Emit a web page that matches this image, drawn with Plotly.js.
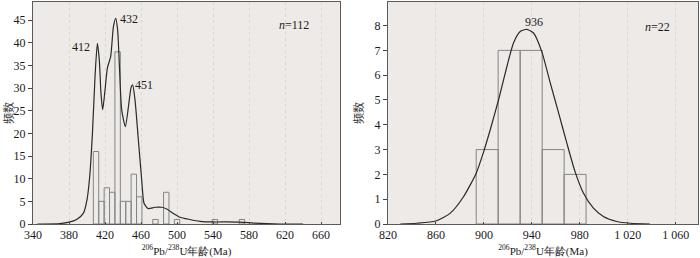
<!DOCTYPE html>
<html><head><meta charset="utf-8">
<script src="https://cdn.plot.ly/plotly-3.0.1.min.js"></script>
<style>html,body{margin:0;padding:0;background:#fff}#c{width:700px;height:258px}</style>
</head><body><div id="c"></div>
<script>
// Left panel: histogram (bin left edges, width 6 Ma) and probability curve
var binLeft1 = [407, 413, 419, 425, 431, 437, 443, 449, 455, 473, 485, 497, 539, 569];
var count1   = [16, 5, 8, 7, 38, 5, 5, 11, 6, 1, 7, 1, 1, 1];
var binWidth1 = 6;
var curveX1 = [345, 351.5, 370, 380, 388.5, 396, 400, 403, 406, 409, 411.5, 413.7, 415.5, 417.4, 420, 422.6, 426.3, 429.3, 431.9, 434, 436, 438.5, 442.6, 446, 449, 450.7, 453.3, 457, 460.7, 463.3, 468, 475.6, 483, 488.5, 496, 503, 514, 525.5, 540.4, 555, 570, 585, 600, 614, 640];
var curveY1 = [0, 0, 0.1, 0.4, 1, 2.4, 5.4, 10.5, 20, 33, 39.9, 36, 28.8, 25.2, 29.6, 34.4, 37, 43.5, 45.4, 42.8, 34.7, 25.2, 21.5, 25.9, 30.2, 30.7, 27.4, 18.6, 9.8, 4.6, 3.4, 3.7, 3.7, 3.3, 2.3, 1.5, 1.0, 0.6, 0.45, 0.45, 0.4, 0.2, 0.07, 0, 0];
var peakLabels1 = ["412", "432", "451"];
var peakX1 = [393, 446.7, 463];
var peakY1 = [39.1, 45.2, 30.7];
var xTicks1 = [340, 380, 420, 460, 500, 540, 580, 620, 660];

// Right panel
var binLeft2 = [893.6, 911.9, 930.3, 948.6, 966.9];
var count2   = [3, 7, 7, 3, 2];
var binWidth2 = 18.33;
var curveX2 = [830.3, 844, 860, 872, 883, 893.6, 899.7, 905.3, 912.2, 919.2, 924.7, 930.3, 935.8, 941.4, 948.3, 955.3, 962.2, 969.2, 976.1, 983, 991.4, 999.7, 1010.8, 1022, 1038.6];
var curveY2 = [0, 0.03, 0.12, 0.44, 1.1, 2.05, 2.9, 3.8, 5.0, 6.35, 7.3, 7.76, 7.85, 7.7, 6.95, 5.7, 4.5, 3.26, 2.1, 1.25, 0.64, 0.3, 0.1, 0.03, 0];
var xTicks2 = [820, 860, 900, 940, 980, 1020, 1060];
var xTickText2 = ["820", "860", "900", "940", "980", "1 020", "1 060"];

var serif = "Liberation Serif, Times New Roman, serif";
var barStyle = {color: "rgba(0,0,0,0)", line: {color: "#858585", width: 1}};
var lineStyle = {color: "#2a2a2a", width: 1.2, shape: "spline", smoothing: 0.6};

var traces = [
  {type: "bar", x: binLeft1, y: count1, width: binWidth1, offset: 0, marker: barStyle, xaxis: "x", yaxis: "y", hoverinfo: "none"},
  {type: "scatter", mode: "lines", x: curveX1, y: curveY1, line: lineStyle, xaxis: "x", yaxis: "y", hoverinfo: "none"},
  {type: "bar", x: binLeft2, y: count2, width: binWidth2, offset: 0, marker: barStyle, xaxis: "x2", yaxis: "y2", hoverinfo: "none"},
  {type: "scatter", mode: "lines", x: curveX2, y: curveY2, line: lineStyle, xaxis: "x2", yaxis: "y2", hoverinfo: "none"}
];

var axisCommon = {
  showline: true, mirror: true, linecolor: "#5a5a5a", linewidth: 1,
  tickfont: {family: serif, size: 12, color: "#1a1a1a"}, zeroline: false
};
var xTitle = {text: "<sup>206</sup>Pb/<sup>238</sup>U年龄(Ma)", font: {family: serif, size: 11, color: "#1a1a1a"}, standoff: 5};
var yTitle = {text: "频数", font: {family: "Noto Sans CJK SC, serif", size: 11, color: "#333"}, standoff: 8};

var annFont = {family: serif, size: 12, color: "#1a1a1a"};
var anns = [];
for (var i = 0; i < peakLabels1.length; i++) {
  anns.push({x: peakX1[i], y: peakY1[i], xref: "x", yref: "y", text: peakLabels1[i], showarrow: false, font: annFont});
}
anns.push({x: 630.3, y: 43.9, xref: "x", yref: "y", text: "<i>n</i>=112", showarrow: false, font: annFont});
anns.push({x: 942.2, y: 8.16, xref: "x2", yref: "y2", text: "936", showarrow: false, font: annFont});
anns.push({x: 1045, y: 7.96, xref: "x2", yref: "y2", text: "<i>n</i>=22", showarrow: false, font: annFont});

var gridStyle = {showgrid: true, gridcolor: "#dcd7d3", griddash: "dot", gridwidth: 1};

var layout = {
  width: 700, height: 258,
  margin: {l: 33, r: 2, t: 2, b: 34},
  paper_bgcolor: "#ffffff", plot_bgcolor: "#eeeae7",
  showlegend: false, barmode: "overlay",
  xaxis: Object.assign({}, axisCommon, gridStyle, {
    domain: [0, 0.4617], range: [340, 681], tickvals: xTicks1,
    ticks: "inside", ticklen: 2, tickcolor: "#444", title: xTitle, anchor: "y"
  }),
  yaxis: Object.assign({}, axisCommon, {
    range: [0, 49], dtick: 5, tick0: 0, showgrid: false,
    ticks: "outside", ticklen: 4, tickcolor: "#444", title: yTitle, anchor: "x"
  }),
  xaxis2: Object.assign({}, axisCommon, gridStyle, {
    domain: [0.5338, 1], range: [820, 1078.6], tickvals: xTicks2, ticktext: xTickText2,
    ticks: "inside", ticklen: 2, tickcolor: "#444", title: xTitle, anchor: "y2"
  }),
  yaxis2: Object.assign({}, axisCommon, {
    range: [0, 8.95], dtick: 1, tick0: 0, showgrid: false,
    ticks: "outside", ticklen: 4, tickcolor: "#444", title: yTitle, anchor: "x2"
  }),
  annotations: anns
};

Plotly.newPlot("c", traces, layout, {staticPlot: true, displayModeBar: false});
</script>
</body></html>
